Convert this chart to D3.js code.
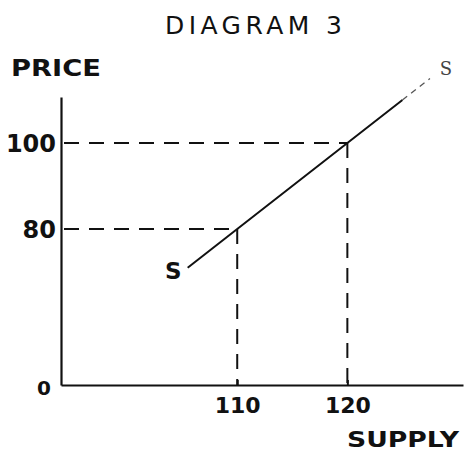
<!DOCTYPE html>
<html>
<head>
<meta charset="utf-8">
<script src="https://cdn.jsdelivr.net/npm/d3@7"></script>
<style>
  html, body { margin: 0; padding: 0; background: #fff; }
  svg { display: block; }
</style>
</head>
<body>
<div id="chart"></div>
<script>
// ---- data ----
const title = "DIAGRAM 3";
const xAxisLabel = "SUPPLY";
const yAxisLabel = "PRICE";
const originLabel = "0";
const supplyQty = [105.5, 110, 120, 125];
const supplyPrice = [71, 80, 100, 110];
const supplyExtQty = [125, 127.5];
const supplyExtPrice = [110, 115];
const markedQty = [110, 120];
const markedPrice = [80, 100];
const xTickLabels = ["110", "120"];
const yTickLabels = ["80", "100"];
const curveLabel = "S";

// ---- layout ----
const W = 465, H = 452;
const x0 = 61, x1 = 463, yBottom = 385, yTop = 97;

const svg = d3.select("#chart").append("svg")
  .attr("width", W).attr("height", H)
  .style("background", "#fff");

const x = d3.scaleLinear().domain([94, 130.5]).range([x0, x1]);
const y = d3.scaleLinear().domain([43.72, 110.7]).range([yBottom, yTop]);

const ink = "#111";
const handFont = "'DejaVu Sans', 'Liberation Sans', sans-serif";

// title
svg.append("text")
  .attr("x", 165).attr("y", 34)
  .attr("textLength", 177).attr("lengthAdjust", "spacing")
  .style("font-family", "'DejaVu Sans', sans-serif")
  .style("font-size", "25px").attr("fill", ink)
  .text(title);

// y axis label
svg.append("text")
  .attr("x", 11).attr("y", 76)
  .attr("textLength", 90).attr("lengthAdjust", "spacingAndGlyphs")
  .style("font-family", handFont).style("font-weight", "bold")
  .style("font-size", "23px").attr("fill", ink)
  .text(yAxisLabel);

// x axis label
svg.append("text")
  .attr("x", 347).attr("y", 447)
  .attr("textLength", 112).attr("lengthAdjust", "spacingAndGlyphs")
  .style("font-family", handFont).style("font-weight", "bold")
  .style("font-size", "22px").attr("fill", ink)
  .text(xAxisLabel);

// axes
const xAxis = d3.axisBottom(x)
  .tickValues(markedQty)
  .tickFormat(d => xTickLabels[markedQty.indexOf(d)])
  .tickSizeInner(-5).tickSizeOuter(0).tickPadding(12);
const gx = svg.append("g").attr("transform", `translate(0,${yBottom})`).call(xAxis);
gx.select(".domain").attr("stroke", ink).attr("stroke-width", 2.2);
gx.selectAll(".tick line").attr("stroke", ink).attr("stroke-width", 2);
gx.selectAll(".tick text")
  .style("font-family", handFont).style("font-weight", "bold")
  .style("font-size", "22px").attr("fill", ink);

const yAxis = d3.axisLeft(y)
  .tickValues(markedPrice)
  .tickFormat(d => yTickLabels[markedPrice.indexOf(d)])
  .tickSizeInner(0).tickSizeOuter(0).tickPadding(5);
const gy = svg.append("g").attr("transform", `translate(${x0},0)`).call(yAxis);
gy.select(".domain").attr("stroke", ink).attr("stroke-width", 2.2);
gy.selectAll(".tick text")
  .style("font-family", handFont).style("font-weight", "bold")
  .style("font-size", "24px").attr("fill", ink)
  .attr("dy", "0.36em");

// origin label
svg.append("text")
  .attr("x", x0 - 17).attr("y", yBottom + 10)
  .attr("text-anchor", "middle")
  .style("font-family", handFont).style("font-weight", "bold")
  .style("font-size", "20px").attr("fill", ink)
  .text(originLabel);

// dashed guide lines
const guides = svg.append("g").attr("stroke", ink).attr("stroke-width", 2)
  .attr("stroke-dasharray", "15,10").attr("fill", "none");
markedQty.forEach((q, i) => {
  const p = markedPrice[i];
  guides.append("line")
    .attr("x1", x(x.domain()[0]) + 3).attr("x2", x(q))
    .attr("y1", y(p)).attr("y2", y(p));
  guides.append("line")
    .attr("x1", x(q)).attr("x2", x(q))
    .attr("y1", y(p)).attr("y2", y(y.domain()[0]));
});

// supply curve
const line = d3.line().x(d => x(d[0])).y(d => y(d[1]));
svg.append("path")
  .datum(supplyQty.map((q, i) => [q, supplyPrice[i]]))
  .attr("d", line)
  .attr("fill", "none").attr("stroke", ink).attr("stroke-width", 2);
svg.append("path")
  .datum(supplyExtQty.map((q, i) => [q, supplyExtPrice[i]]))
  .attr("d", line)
  .attr("fill", "none").attr("stroke", "#555").attr("stroke-width", 1.3)
  .attr("stroke-dasharray", "6,5");

// curve labels
svg.append("text")
  .attr("x", x(supplyQty[0]) - 6).attr("y", y(supplyPrice[0]) + 11)
  .attr("text-anchor", "end")
  .style("font-family", handFont).style("font-weight", "bold")
  .style("font-size", "23px").attr("fill", ink)
  .text(curveLabel);
svg.append("text")
  .attr("x", x(supplyExtQty[1]) + 16).attr("y", y(supplyExtPrice[1]) - 4)
  .attr("text-anchor", "middle")
  .style("font-family", "'DejaVu Serif', serif")
  .style("font-size", "18px").attr("fill", "#444")
  .text(curveLabel);
</script>
</body>
</html>
